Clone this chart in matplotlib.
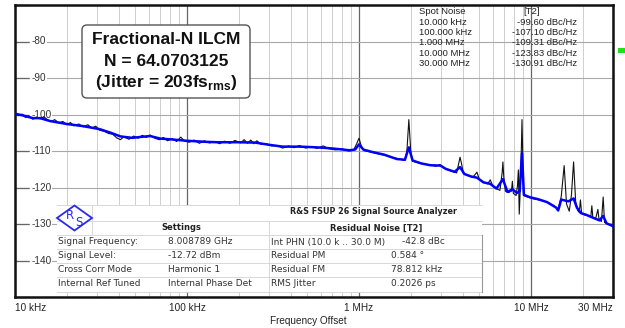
import numpy as np
import matplotlib
matplotlib.use("Agg")
import matplotlib.pyplot as plt
from matplotlib.patches import FancyBboxPatch, Rectangle, Polygon
import matplotlib.transforms as mtransforms

plt.rcParams['mathtext.fontset'] = 'custom'
plt.rcParams['mathtext.rm'] = 'Liberation Sans:bold'

# raw trace (black), frequency in kHz, level in dBc/Hz
raw_freq = [10, 10.5, 11, 11.5, 12, 12.7, 13.3, 14, 14.7, 15.5, 16.3, 17, 18, 19, 20, 21, 22, 23.5,
            25, 26.5, 28, 29.5, 31, 33, 35, 37, 39, 41, 43, 46, 49, 52, 55, 58, 61, 65, 69, 73,
            77, 82, 87, 92, 97, 103, 110, 118, 126, 135, 145, 155, 165, 178, 190, 205, 215, 225,
            235, 245, 255, 270, 290, 310, 335, 360, 390, 420, 450, 490, 530, 570, 620, 670, 730,
            800, 870, 930, 970, 1000, 1030, 1070, 1150, 1250, 1350, 1450, 1550, 1650, 1750, 1850,
            1900, 1950, 2000, 2050, 2200, 2400, 2600, 2800, 2950, 3100, 3300, 3500, 3700, 3800,
            3870, 3950, 4050, 4300, 4600, 4850, 5000, 5300, 5600, 5800, 6000, 6300, 6600, 6800,
            6870, 6950, 7100, 7400, 7700, 7800, 7900, 8200, 8350, 8450, 8550, 8650, 8800, 8870,
            8950, 9050, 9400, 9900, 10500, 11200, 12000, 12800, 13600, 14400, 15000, 15600, 16100,
            16700, 17200, 17700, 18200, 18700, 19100, 19400, 19700, 20500, 21500, 22300, 22600,
            22900, 23800, 24500, 24900, 25700, 26300, 26800, 27500, 28500, 29300, 30000]
raw_level = [-99.6, -100.3, -99.9, -100.8, -100.4, -101.3, -100.7, -101.2, -100.6, -101.5, -101.9,
             -101.4, -102.3, -101.9, -102.8, -102.2, -103.1, -102.6, -103.4, -102.8, -103.7, -103.2,
             -104.3, -104.6, -105.2, -105.4, -106.4, -106.9, -106.1, -106.8, -105.9, -106.5, -105.7,
             -106.3, -105.6, -106.5, -106.9, -106.3, -107.2, -106.6, -107.4, -106.2, -107.3, -107.6,
             -107.0, -107.9, -107.2, -107.8, -107.4, -108.0, -107.3, -107.9, -107.1, -107.8, -106.9,
             -107.9, -107.0, -108.0, -107.2, -108.2, -108.0, -108.6, -108.5, -109.2, -108.6, -109.1,
             -108.5, -109.2, -108.8, -109.3, -108.6, -109.4, -109.7, -109.4, -110.0, -109.8, -108.0,
             -106.5, -108.5, -109.9, -110.2, -110.6, -111.0, -111.3, -111.8, -112.0, -112.3, -112.6,
             -110.0, -101.4, -110.0, -112.8, -113.2, -113.6, -113.8, -114.2, -113.7, -114.6, -115.2,
             -115.6, -116.0, -113.5, -111.7, -113.5, -116.2, -116.7, -117.2, -115.8, -117.6, -118.5,
             -119.0, -117.9, -119.6, -120.3, -120.8, -116.0, -113.0, -117.0, -121.0, -121.4, -121.0,
             -118.3, -121.6, -122.2, -119.5, -115.2, -127.3, -121.5, -109.0, -101.4, -110.0, -122.2,
             -122.5, -122.8, -123.2, -123.4, -123.8, -124.3, -125.0, -126.0, -122.5, -114.0, -124.5,
             -126.5, -122.0, -113.0, -124.0, -126.3, -126.8, -123.4, -127.0, -127.5, -127.7, -127.8,
             -125.0, -128.2, -128.5, -126.0, -128.9, -129.3, -122.6, -129.6, -129.8, -130.2, -130.0,
             -130.8]

# smoothed trace (blue)
smooth_freq = [10, 11, 12.7, 14, 16, 20, 25, 31, 36, 41, 48, 55, 61, 70, 80, 100, 130, 150, 200,
               250, 300, 360, 450, 570, 700, 880, 950, 1000, 1060, 1200, 1400, 1660, 1850, 1950,
               2050, 2300, 2600, 2980, 3200, 3600, 3870, 4100, 4500, 4850, 5300, 5800, 6300, 6870,
               7300, 7800, 8300, 8600, 8870, 9100, 9900, 11000, 12400, 14000, 14400, 15000, 16500,
               17700, 18500, 19500, 21000, 23000, 25000, 26300, 27500, 30000]
smooth_level = [-99.8, -100.2, -101.0, -101.0, -101.8, -102.6, -103.2, -104.0, -105.0, -106.0,
                -106.4, -106.1, -105.9, -106.6, -106.8, -107.2, -107.5, -107.6, -107.6, -107.7,
                -108.3, -108.8, -108.8, -109.0, -109.3, -109.8, -109.6, -108.2, -109.6, -110.3,
                -111.0, -112.2, -112.4, -109.0, -112.6, -113.4, -113.9, -114.0, -114.9, -115.7,
                -114.4, -116.3, -117.0, -117.3, -118.6, -119.0, -120.3, -117.7, -121.2, -120.5,
                -121.5, -121.0, -110.6, -122.0, -122.7, -123.2, -124.0, -125.5, -126.3, -123.3,
                -123.8, -123.0, -125.5, -127.0, -127.5, -128.3, -129.0, -127.8, -129.8, -130.6]

x_ticks = [1e4, 1e5, 1e6, 1e7, 3e7]
x_ticklabels = ["10 kHz", "100 kHz", "1 MHz", "10 MHz", "30 MHz"]
y_ticks = [-140, -130, -120, -110, -100, -90, -80]

spot_freqs = ["10.000 kHz", "100.000 kHz", "1.000 MHz", "10.000 MHz", "30.000 MHz"]
spot_values = [-99.60, -107.10, -109.31, -123.83, -130.91]

settings_labels = ["Signal Frequency:", "Signal Level:", "Cross Corr Mode", "Internal Ref Tuned"]
settings_values = ["8.008789 GHz", "-12.72 dBm", "Harmonic 1", "Internal Phase Det"]
residual_labels = ["Int PHN (10.0 k .. 30.0 M)", "Residual PM", "Residual FM", "RMS Jitter"]
residual_values = ["-42.8 dBc", "0.584 \u00b0", "78.812 kHz", "0.2026 ps"]

W, H = 625, 328
fig = plt.figure(figsize=(W / 100, H / 100), dpi=100)
fig.patch.set_facecolor("white")
ax = fig.add_axes([15 / W, 31 / H, 598 / W, 292 / H])


def fx(px):
    return px / W


def fy(py):
    return 1 - py / H


ax.semilogx(np.array(raw_freq) * 1e3, raw_level, color="#111111", lw=0.8, zorder=3)
ax.semilogx(np.array(smooth_freq) * 1e3, smooth_level, color="#0000ff", lw=1.8, zorder=4)

ax.set_xlim(1e4, 3e7)
ax.set_ylim(-150, -70)
ax.set_yticks(np.arange(-150, -69, 10))
ax.yaxis.set_ticklabels([])
ax.tick_params(axis="y", direction="in", length=10, color="#666666", width=0.9)
ax.set_xticks(x_ticks)
ax.set_xticklabels([])
ax.tick_params(axis="x", which="both", length=0)
ax.xaxis.set_minor_locator(matplotlib.ticker.LogLocator(base=10, subs=np.arange(2, 10)))
ax.grid(True, which="major", axis="x", color="#666666", lw=0.9)
ax.grid(True, which="minor", axis="x", color="#cfcfcf", lw=0.7)
ax.grid(True, which="major", axis="y", color="#a8a8a8", lw=0.8)
ax.set_axisbelow(True)
for s in ax.spines.values():
    s.set_linewidth(1.8)
    s.set_color("#111111")

# y labels sit inside the plot on the grid lines, under the traces
trans_y = mtransforms.blended_transform_factory(ax.transAxes, ax.transData)
for v in y_ticks:
    ax.text(0.027, v, str(v), transform=trans_y, ha="left", va="center", fontsize=7.2,
            family="Liberation Sans", color="#333333", zorder=2.5,
            bbox=dict(boxstyle="square,pad=0.1", fc="white", ec="none"))

# x labels under the frame
trans_x = mtransforms.blended_transform_factory(ax.transData, fig.transFigure)
for i, (v, lab) in enumerate(zip(x_ticks, x_ticklabels)):
    ha = "center"
    if i == 0:
        ha = "left"
    elif i == len(x_ticks) - 1:
        ha = "right"
    ax.text(v, fy(308), lab, transform=trans_x, ha=ha, va="center", fontsize=7.2,
            family="Liberation Sans", color="#222222")
fig.text(fx(308), fy(321), "Frequency Offset", ha="center", va="center", fontsize=7.2,
         family="Liberation Sans", color="#222222")

# title box
box = FancyBboxPatch((fx(82), fy(98)), fx(250) - fx(82), fy(25) - fy(98),
                     boxstyle="round,pad=0,rounding_size=0.008", mutation_aspect=W / H,
                     transform=fig.transFigure, fc="white", ec="#555555", lw=1.0, zorder=6)
fig.add_artist(box)
title_lines = ["Fractional-N ILCM", "N = 64.0703125", r"(Jitter = 203fs$_{\mathrm{rms}}$)"]
for i, t in enumerate(title_lines):
    fig.text(fx(166), fy(40 + 21.5 * i), t, ha="center", va="center", fontsize=12.5,
             family="Liberation Sans", weight="bold", color="#111111", zorder=7)

# spot noise readout
fig.text(fx(419), fy(12), "Spot Noise", ha="left", va="center", fontsize=6.8,
         family="Liberation Sans", color="#222222")
fig.text(fx(532), fy(12), "[T2]", ha="center", va="center", fontsize=6.8,
         family="Liberation Sans", color="#222222")
for i, (f, v) in enumerate(zip(spot_freqs, spot_values)):
    yy = fy(22.5 + 10.2 * i)
    fig.text(fx(419), yy, f, ha="left", va="center", fontsize=6.8,
             family="Liberation Sans", color="#222222")
    fig.text(fx(577), yy, "%.2f dBc/Hz" % v, ha="right", va="center", fontsize=6.8,
             family="Liberation Sans", color="#222222")

# green marker at the right edge
fig.add_artist(Rectangle((fx(618), fy(53)), fx(7), 5 / H, transform=fig.transFigure,
                         fc="#22dd22", ec="none"))

# analyzer table
tbl = Rectangle((fx(57), fy(292)), fx(482) - fx(57), fy(205) - fy(292),
                transform=fig.transFigure, fc="white", ec="none", zorder=6)
fig.add_artist(tbl)
line_kw = dict(transform=fig.transFigure, color="#d8d8d8", lw=0.7, zorder=7)
for yy in [205, 221, 235, 249, 263, 277, 292]:
    fig.add_artist(plt.Line2D([fx(57), fx(482)], [fy(yy), fy(yy)], **line_kw))
fig.add_artist(plt.Line2D([fx(269), fx(269)], [fy(221), fy(292)], **line_kw))
fig.add_artist(plt.Line2D([fx(92), fx(92)], [fy(205), fy(235)], **line_kw))
fig.add_artist(plt.Line2D([fx(482), fx(482)], [fy(235), fy(292)], transform=fig.transFigure,
                          color="#999999", lw=0.8, zorder=7))

fig.text(fx(374), fy(211.5), "R&S FSUP 26 Signal Source Analyzer", ha="center", va="center",
         fontsize=5.8, family="DejaVu Sans", weight="bold", color="#222222", zorder=8)
fig.text(fx(181), fy(228), "Settings", ha="center", va="center", fontsize=6.0,
         family="DejaVu Sans", weight="bold", color="#222222", zorder=8)
fig.text(fx(376), fy(228), "Residual Noise [T2]", ha="center", va="center", fontsize=6.0,
         family="DejaVu Sans", weight="bold", color="#222222", zorder=8)
for i in range(4):
    yy = fy(242 + 14 * i)
    kw = dict(ha="left", va="center", fontsize=6.5, family="DejaVu Sans", color="#333333",
              zorder=8)
    fig.text(fx(58), yy, settings_labels[i], **kw)
    fig.text(fx(168), yy, settings_values[i], **kw)
    fig.text(fx(271), yy, residual_labels[i], **kw)
    fig.text(fx(402 if i == 0 else 391), yy, residual_values[i], **kw)

# R&S logo
cx, cy = 74.5, 218
diamond = Polygon([(fx(cx), fy(cy - 12.5)), (fx(cx + 17.5), fy(cy)), (fx(cx), fy(cy + 12.5)),
                   (fx(cx - 17.5), fy(cy))], closed=True, transform=fig.transFigure,
                  fc="white", ec="#2a2aee", lw=1.3, zorder=8)
fig.add_artist(diamond)
fig.text(fx(70), fy(215.5), "R", ha="center", va="center", fontsize=8.5,
         family="DejaVu Sans", color="#2a2aee", zorder=9)
fig.text(fx(78.5), fy(223), "S", ha="center", va="center", fontsize=8.5,
         family="DejaVu Sans", color="#2a2aee", zorder=9)

fig.savefig("out.png", dpi=100)
